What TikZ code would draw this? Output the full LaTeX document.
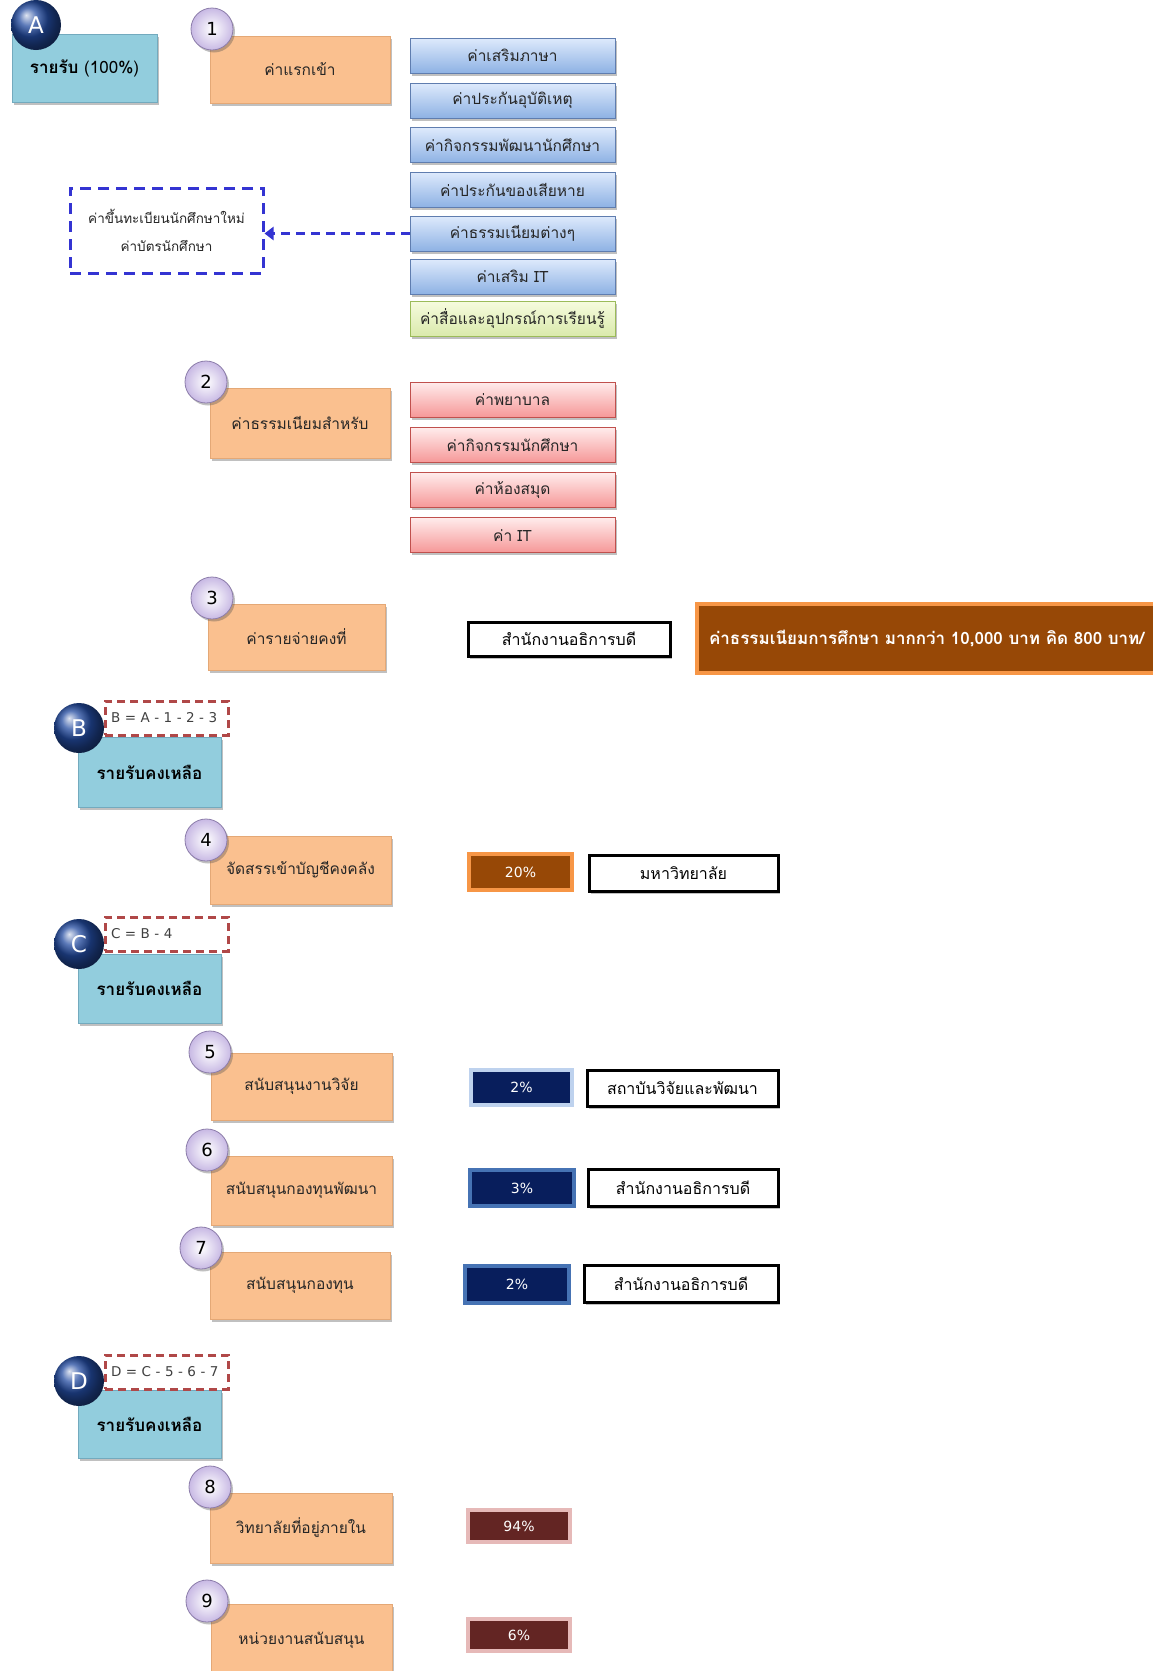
\documentclass[tikz,border=0pt]{standalone}
\usepackage{fontspec}
\newfontfamily\thai[Script=Thai]{Loma}
\newfontfamily\latn{DejaVu Sans}
\usetikzlibrary{shadows,arrows.meta,shapes.geometric}
\definecolor{tealfill}{RGB}{146,205,221}
\definecolor{tealdraw}{RGB}{115,170,190}
\definecolor{orfill}{RGB}{250,192,143}
\definecolor{ordraw}{RGB}{228,168,118}
\definecolor{bluetop}{RGB}{222,234,252}
\definecolor{bluebot}{RGB}{142,178,228}
\definecolor{bluedraw}{RGB}{95,125,175}
\definecolor{greentop}{RGB}{246,251,222}
\definecolor{greenbot}{RGB}{218,234,172}
\definecolor{greendraw}{RGB}{155,187,89}
\definecolor{pinktop}{RGB}{255,236,236}
\definecolor{pinkbot}{RGB}{246,152,152}
\definecolor{pinkdraw}{RGB}{192,80,77}
\definecolor{dashblue}{RGB}{52,52,210}
\definecolor{dashred}{RGB}{176,72,72}
\definecolor{brownfill}{RGB}{151,72,6}
\definecolor{browndraw}{RGB}{247,150,70}
\definecolor{navyfill}{RGB}{8,30,92}
\definecolor{navylight}{RGB}{190,210,238}
\definecolor{navymid}{RGB}{70,115,180}
\definecolor{maroonfill}{RGB}{99,37,35}
\definecolor{maroondraw}{RGB}{230,185,184}
\definecolor{lavfill}{RGB}{200,185,228}
\definecolor{lavdraw}{RGB}{140,125,170}
\definecolor{ballblue}{RGB}{35,75,160}
\tikzset{
  shad/.style={drop shadow={shadow xshift=2pt,shadow yshift=-2.5pt,opacity=0.35,fill=black!70}},
  tbox/.style={rectangle,fill=tealfill,draw=tealdraw,line width=0.8pt,shad,inner sep=0pt,
    font=\thai\fontsize{17}{20}\selectfont\bfseries},
  obox/.style={rectangle,fill=orfill,draw=ordraw,line width=0.8pt,shad,inner sep=0pt,
    font=\thai\fontsize{15.5}{18}\selectfont,text=black!85},
  bbox/.style={rectangle,top color=bluetop,bottom color=bluebot,draw=bluedraw,line width=0.8pt,shad,
    minimum width=205pt,minimum height=35pt,inner sep=0pt,font=\thai\fontsize{15.5}{18}\selectfont,text=black!85},
  gbox/.style={bbox,top color=greentop,bottom color=greenbot,draw=greendraw},
  pbox/.style={bbox,top color=pinktop,bottom color=pinkbot,draw=pinkdraw},
  kbox/.style={rectangle,fill=white,draw=black,line width=3pt,shad,inner sep=0pt,
    font=\thai\fontsize{16}{18}\selectfont},
  pct/.style={rectangle,line width=3.5pt,inner sep=0pt,text=white,font=\latn\fontsize{14}{16}\selectfont},
  numc/.style={circle,minimum size=42pt,inner sep=0pt,draw=lavdraw,line width=0.8pt,
    inner color=white,outer color=lavfill,font=\latn\fontsize{18}{20}\selectfont,shad},
  letc/.style={circle,minimum size=50pt,inner sep=0pt,ball color=ballblue,text=white,
    font=\latn\fontsize{23}{26}\selectfont},
  fbox/.style={rectangle,fill=white,draw=dashred,line width=3pt,dash pattern=on 8pt off 5pt,
    minimum width=123pt,minimum height=34pt,inner xsep=6pt,text width=111pt,align=left,
    font=\latn\fontsize{13.5}{15}\selectfont,text=black!75},
  dasharrow/.style={draw=dashblue,line width=3pt,dash pattern=on 9pt off 6pt,
    -{Triangle[length=9pt,width=13pt]}}
}
\begin{document}
\begin{tikzpicture}[x=1pt,y=-1pt]
\useasboundingbox (0,0) rectangle (1153,1671);
\clip (0,0) rectangle (1153,1671);
\fill[white] (0,0) rectangle (1153,1671);

% ---- A ----
\node[tbox,minimum width=145pt,minimum height=68pt] (A) at (84.5,68) {รายรับ {\mdseries (100\%)}};
\node[letc] (cA) at (36,25) {A};

% ---- 1 ----
\node[obox,minimum width=180pt,minimum height=67pt] (o1) at (300,69.5) {ค่าแรกเข้า};
\node[numc] (n1) at (212,29) {1};
\node[bbox] (b1) at (512.5,55.5) {ค่าเสริมภาษา};
\node[bbox] (b2) at (512.5,100.5) {ค่าประกันอุบัติเหตุ};
\node[bbox] (b3) at (512.5,145) {ค่ากิจกรรมพัฒนานักศึกษา};
\node[bbox] (b4) at (512.5,189.5) {ค่าประกันของเสียหาย};
\node[bbox] (b5) at (512.5,233.5) {ค่าธรรมเนียมต่างๆ};
\node[bbox] (b6) at (512.5,276.5) {ค่าเสริม IT};
\node[gbox] (b7) at (512.5,318.5) {ค่าสื่อและอุปกรณ์การเรียนรู้};
\node[rectangle,draw=dashblue,line width=3pt,dash pattern=on 11pt off 7pt,minimum width=193pt,minimum height=85pt,
  align=center,font=\thai\fontsize{13.5}{28}\selectfont,text=black!85] (dbx) at (166.5,230.5)
  {ค่าขึ้นทะเบียนนักศึกษาใหม่\\ค่าบัตรนักศึกษา};
\draw[dasharrow] (b5.west) -- (b5.west -| dbx.east);

% ---- 2 ----
\node[obox,minimum width=180pt,minimum height=70pt] (o2) at (300,423) {ค่าธรรมเนียมสำหรับ};
\node[numc] (n2) at (206,382) {2};
\node[pbox] (p1) at (512.5,399.5) {ค่าพยาบาล};
\node[pbox] (p2) at (512.5,445) {ค่ากิจกรรมนักศึกษา};
\node[pbox] (p3) at (512.5,490) {ค่าห้องสมุด};
\node[pbox] (p4) at (512.5,535) {ค่า IT};

% ---- 3 ----
\node[obox,minimum width=177pt,minimum height=66pt] (o3) at (296.5,637) {ค่ารายจ่ายคงที่};
\node[numc] (n3) at (212,598) {3};
\node[kbox,minimum width=202pt,minimum height=34pt] (k3) at (569,639) {สำนักงานอธิการบดี};
\node[rectangle,fill=brownfill,draw=browndraw,line width=4pt,minimum height=69pt,inner xsep=12pt,
  text width=440pt,align=left,text=white,font=\thai\fontsize{17}{20}\selectfont\bfseries] (fee) at (929,638.5)
  {ค่าธรรมเนียมการศึกษา มากกว่า 10,000 บาท คิด 800 บาท/};

% ---- B ----
\node[tbox,minimum width=143pt,minimum height=70pt] (B) at (149.5,772) {รายรับคงเหลือ};
\node[fbox] (fB) at (166.5,718) {B = A - 1 - 2 - 3};
\node[letc] (cB) at (79,728) {B};

% ---- 4 ----
\node[obox,minimum width=181pt,minimum height=68pt] (o4) at (300.5,870) {จัดสรรเข้าบัญชีคงคลัง};
\node[numc] (n4) at (206,840) {4};
\node[pct,fill=brownfill,draw=browndraw,minimum width=103pt,minimum height=36pt] (q4) at (520.5,872) {20\%};
\node[kbox,minimum width=189pt,minimum height=36pt] (k4) at (683.5,873) {มหาวิทยาลัย};

% ---- C ----
\node[tbox,minimum width=143pt,minimum height=69pt] (C) at (149.5,988.5) {รายรับคงเหลือ};
\node[fbox] (fC) at (166.5,934) {C = B - 4};
\node[letc] (cC) at (79,944) {C};

% ---- 5 ----
\node[obox,minimum width=181pt,minimum height=67pt] (o5) at (301.5,1086.5) {สนับสนุนงานวิจัย};
\node[numc] (n5) at (210,1052) {5};
\node[pct,fill=navyfill,draw=navylight,minimum width=101pt,minimum height=35pt] (q5) at (521.5,1087.5) {2\%};
\node[kbox,minimum width=191pt,minimum height=36pt] (k5) at (682.5,1088) {สถาบันวิจัยและพัฒนา};

% ---- 6 ----
\node[obox,minimum width=181pt,minimum height=69pt] (o6) at (301.5,1190.5) {สนับสนุนกองทุนพัฒนา};
\node[numc] (n6) at (207,1150) {6};
\node[pct,fill=navyfill,draw=navymid,minimum width=104pt,minimum height=36pt] (q6) at (522,1188) {3\%};
\node[kbox,minimum width=190pt,minimum height=37pt] (k6) at (683,1187.5) {สำนักงานอธิการบดี};

% ---- 7 ----
\node[obox,minimum width=180pt,minimum height=67pt] (o7) at (300,1285.5) {สนับสนุนกองทุน};
\node[numc] (n7) at (201,1248) {7};
\node[pct,fill=navyfill,draw=navymid,minimum width=104pt,minimum height=37pt] (q7) at (517,1284.5) {2\%};
\node[kbox,minimum width=194pt,minimum height=37pt] (k7) at (681,1283.5) {สำนักงานอธิการบดี};

% ---- D ----
\node[tbox,minimum width=143pt,minimum height=68pt] (D) at (149.5,1424) {รายรับคงเหลือ};
\node[fbox] (fD) at (166.5,1372) {D = C - 5 - 6 - 7};
\node[letc] (cD) at (79,1381) {D};

% ---- 8 ----
\node[obox,minimum width=182pt,minimum height=70pt] (o8) at (301,1528) {วิทยาลัยที่อยู่ภายใน};
\node[numc] (n8) at (210,1487) {8};
\node[pct,fill=maroonfill,draw=maroondraw,minimum width=102pt,minimum height=32pt] (q8) at (519,1526) {94\%};

% ---- 9 ----
\node[obox,minimum width=181pt,minimum height=72pt] (o9) at (301.5,1640) {หน่วยงานสนับสนุน};
\node[numc] (n9) at (207,1601) {9};
\node[pct,fill=maroonfill,draw=maroondraw,minimum width=102pt,minimum height=32pt] (q9) at (519,1635) {6\%};
\end{tikzpicture}
\end{document}
